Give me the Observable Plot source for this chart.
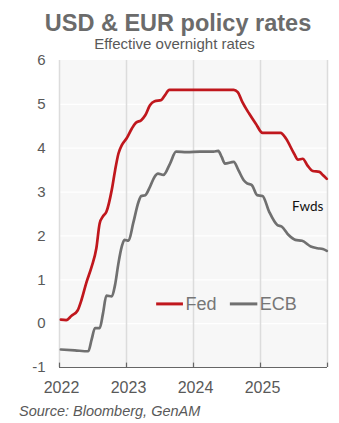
<!DOCTYPE html>
<html>
<head>
<meta charset="utf-8">
<script src="https://cdn.jsdelivr.net/npm/d3@7"></script>
<script src="https://cdn.jsdelivr.net/npm/@observablehq/plot@0.6"></script>
<style>
  html, body { margin: 0; padding: 0; background: #ffffff; }
  #wrap { position: relative; width: 339px; height: 423px; font-family: "Liberation Sans", Arial, sans-serif; }
  #title { position: absolute; left: 0; width: 339px; top: 10px; text-align: center; font-weight: bold; font-size: 23.5px; line-height: 27px; color: #6b6b6b; padding-left: 17px; box-sizing: border-box; }
  #subtitle { position: absolute; left: 0; width: 339px; top: 35px; text-align: center; font-size: 15px; line-height: 18px; color: #595959; padding-left: 10px; box-sizing: border-box; }
  #chart { position: absolute; left: 0; top: 52px; }
  #caption { position: absolute; left: 19px; top: 403px; font-style: italic; font-size: 14.5px; line-height: 17px; color: #595959; }
</style>
</head>
<body>
<div id="wrap">
  <div id="title">USD &amp; EUR policy rates</div>
  <div id="subtitle">Effective overnight rates</div>
  <div id="chart"></div>
  <div id="caption">Source: Bloomberg, GenAM</div>
</div>
<script>
// Fed effective rate (decimal year, %)
const fedDates = [2022.02, 2022.10, 2022.18, 2022.27, 2022.33, 2022.40, 2022.48, 2022.55, 2022.60, 2022.65, 2022.70, 2022.78, 2022.83, 2022.88, 2022.93, 2023.00, 2023.08, 2023.14, 2023.22, 2023.28, 2023.35, 2023.42, 2023.52, 2023.57, 2023.64, 2023.80, 2024.00, 2024.20, 2024.40, 2024.60, 2024.66, 2024.73, 2024.83, 2024.93, 2025.03, 2025.13, 2025.30, 2025.38, 2025.50, 2025.56, 2025.63, 2025.70, 2025.78, 2025.88, 2025.93, 2025.99];
const fedValues = [0.09, 0.08, 0.18, 0.30, 0.55, 0.93, 1.30, 1.72, 2.29, 2.45, 2.55, 3.05, 3.50, 3.88, 4.07, 4.22, 4.45, 4.58, 4.64, 4.75, 4.98, 5.07, 5.10, 5.20, 5.33, 5.33, 5.33, 5.33, 5.33, 5.33, 5.28, 5.05, 4.79, 4.56, 4.35, 4.35, 4.35, 4.22, 3.88, 3.74, 3.76, 3.61, 3.48, 3.46, 3.39, 3.30];

// ECB effective rate (decimal year, %)
const ecbDates = [2022.02, 2022.23, 2022.43, 2022.48, 2022.53, 2022.60, 2022.65, 2022.70, 2022.78, 2022.83, 2022.88, 2022.93, 2022.97, 2023.03, 2023.10, 2023.18, 2023.22, 2023.28, 2023.35, 2023.42, 2023.47, 2023.55, 2023.65, 2023.74, 2023.90, 2024.10, 2024.30, 2024.37, 2024.42, 2024.47, 2024.60, 2024.67, 2024.75, 2024.80, 2024.87, 2024.95, 2025.03, 2025.13, 2025.25, 2025.32, 2025.42, 2025.52, 2025.62, 2025.75, 2025.85, 2025.93, 2025.99];
const ecbValues = [-0.59, -0.61, -0.63, -0.36, -0.10, -0.10, 0.24, 0.64, 0.62, 0.89, 1.38, 1.76, 1.91, 1.89, 2.29, 2.78, 2.91, 2.93, 3.12, 3.35, 3.42, 3.39, 3.65, 3.92, 3.91, 3.92, 3.92, 3.94, 3.80, 3.65, 3.69, 3.50, 3.27, 3.20, 3.16, 2.93, 2.91, 2.55, 2.25, 2.21, 2.02, 1.91, 1.89, 1.76, 1.72, 1.70, 1.66];

const yearTicks = [2022, 2023, 2024, 2025];
const yearGrid = [2022, 2023, 2024, 2025, 2026];
const yTicks = [-1, 0, 1, 2, 3, 4, 5, 6];
const seriesNames = ["Fed", "ECB"];
const seriesColors = ["#c0171d", "#707070"];

const fed = fedDates.map((d, i) => ({x: d, y: fedValues[i]}));
const ecb = ecbDates.map((d, i) => ({x: d, y: ecbValues[i]}));

const plot = Plot.plot({
  width: 339,
  height: 350,
  marginLeft: 59,
  marginRight: 12,
  marginTop: 8,
  marginBottom: 35,
  style: {fontFamily: "Liberation Sans, Arial, sans-serif", fontSize: "15px", color: "#595959", background: "transparent"},
  x: {type: "linear", domain: [2022, 2026], label: null},
  y: {domain: [-1, 6], label: null},
  marks: [
    Plot.rect([0], {x1: 2022, x2: 2026, y1: -1, y2: 6, fill: "#f7f7f7"}),
    Plot.ruleY(yTicks.filter(d => d > -1 && d < 6), {stroke: "#ffffff", strokeWidth: 1.3}),
    Plot.ruleX(yearGrid, {y1: -1, y2: 6, stroke: "#dcdcdc", strokeWidth: 1.5}),
    Plot.ruleY([-1], {x1: 2022, x2: 2026, stroke: "#666666", strokeWidth: 1.2}),
    Plot.ruleX(yearGrid, {y1: -1, y2: -0.9, stroke: "#666666", strokeWidth: 1.2}),
    Plot.line(ecb, {x: "x", y: "y", stroke: seriesColors[1], strokeWidth: 2.7, curve: "monotone-x"}),
    Plot.line(fed, {x: "x", y: "y", stroke: seriesColors[0], strokeWidth: 2.7, curve: "monotone-x"}),
    Plot.axisX(yearTicks, {tickSize: 0, tickPadding: 14, tickFormat: d => String(d), fontSize: 16, fill: "#595959", dx: 2, label: null}),
    Plot.axisY(yTicks, {tickSize: 0, tickPadding: 14, tickFormat: d => String(d), fontSize: 15, fill: "#595959", label: null}),
    // Legend
    Plot.ruleY([0.45], {x1: 2023.45, x2: 2023.85, stroke: seriesColors[0], strokeWidth: 3}),
    Plot.text([seriesNames[0]], {x: 2023.88, y: 0.45, text: d => d, textAnchor: "start", fontSize: 18, fill: "#767676"}),
    Plot.ruleY([0.45], {x1: 2024.55, x2: 2024.96, stroke: seriesColors[1], strokeWidth: 3}),
    Plot.text([seriesNames[1]], {x: 2024.99, y: 0.45, text: d => d, textAnchor: "start", fontSize: 18, fill: "#767676"}),
    // Annotation
    Plot.text(["Fwds"], {x: 2025.47, y: 2.67, text: d => d, textAnchor: "start", fontSize: 13.5, fill: "#111111", fontFamily: "Lato, sans-serif"})
  ]
});
document.getElementById("chart").appendChild(plot);
</script>
</body>
</html>
